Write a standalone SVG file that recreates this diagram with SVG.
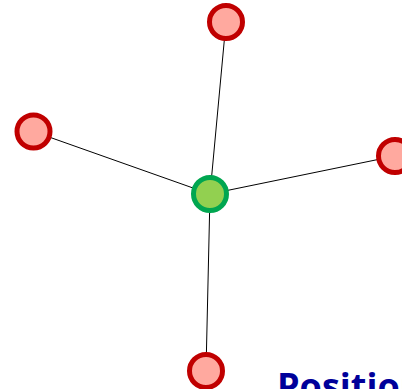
<svg xmlns="http://www.w3.org/2000/svg" width="402" height="389" viewBox="0 0 402 389">
<style>
.edge{stroke:#000;stroke-width:1;fill:none}
.leaf{fill:#ffa99f;stroke:#c00000;stroke-width:5}
.hub{fill:#92d050;stroke:#00a650;stroke-width:5}
.title{font-family:"Open Sans","Liberation Sans",sans-serif;font-weight:bold;font-size:36px;fill:#00009a}
</style>
<rect width="402" height="389" fill="#fff"/>
<g id="connectors">
<line class="edge" x1="210" y1="194" x2="226" y2="22"/>
<line class="edge" x1="210" y1="194" x2="33.5" y2="131.5"/>
<line class="edge" x1="210" y1="194" x2="395" y2="156"/>
<line class="edge" x1="210" y1="194" x2="206" y2="371"/>
</g>
<g id="node-top"><circle class="leaf" cx="226" cy="22" r="16.5"/></g>
<g id="node-left"><circle class="leaf" cx="33.5" cy="131.5" r="16.5"/></g>
<g id="node-right"><circle class="leaf" cx="395" cy="156" r="16.5"/></g>
<g id="node-bottom"><circle class="leaf" cx="206" cy="371" r="16.5"/></g>
<g id="node-center"><circle class="hub" cx="210" cy="194" r="16.5"/></g>
<text class="title" x="277" y="399">Position</text>
</svg>
